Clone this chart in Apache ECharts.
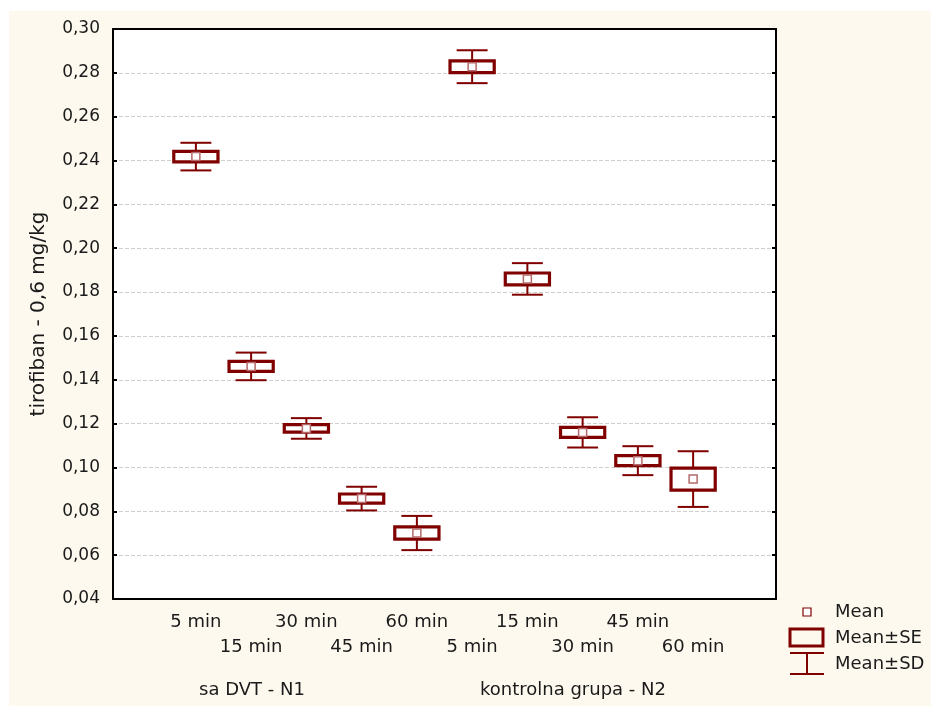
<!DOCTYPE html>
<html>
<head>
<meta charset="utf-8">
<script src="https://cdn.jsdelivr.net/npm/echarts@6/dist/echarts.min.js"></script>
<style>
  html, body { margin: 0; padding: 0; background: #ffffff; }
  #chart {
    position: absolute;
    left: 9px;
    top: 11px;
    width: 922px;
    height: 695px;
    background: #fdf9ef;
  }
</style>
</head>
<body>
<div id="chart"></div>
<script>
// categories along the x axis (blank slots at both ends, like the original)
const categories = ["", "5 min", "15 min", "30 min", "45 min", "60 min",
                    "5 min", "15 min", "30 min", "45 min", "60 min", ""];
const groupNames = ["sa DVT - N1", "kontrolna grupa - N2"];

// means, standard errors, standard deviations
const means = [0.2418, 0.1461, 0.1178, 0.0858, 0.0701,
               0.2828, 0.1860, 0.1160, 0.1031, 0.0947];
const se    = [0.0024, 0.0023, 0.0017, 0.0021, 0.0028,
               0.0027, 0.0027, 0.0023, 0.0023, 0.0050];
const sd    = [0.0063, 0.0063, 0.0047, 0.0054, 0.0078,
               0.0075, 0.0072, 0.0069, 0.0066, 0.0127];

const yMin = 0.04, yMax = 0.30, yStep = 0.02;

const RED = "#800000";
const FONT = "DejaVu Sans";
const TXT = "#1a1a1a";

// one data row per box: [category index, mean, se, sd]
const rows = means.map((m, i) => [i + 1, m, se[i], sd[i]]);

const chart = echarts.init(document.getElementById("chart"));

function whiskers(params, api) {
    const x = api.value(0), m = api.value(1), s = api.value(3);
    const top = api.coord([x, m + s]);
    const bot = api.coord([x, m - s]);
    const half = api.size([1, 0])[0] * 0.28;
    const style = { stroke: RED, lineWidth: 2 };
    return {
        type: "group",
        children: [
            { type: "line", shape: { x1: top[0], y1: top[1], x2: bot[0], y2: bot[1] }, style },
            { type: "line", shape: { x1: top[0] - half, y1: top[1], x2: top[0] + half, y2: top[1] }, style },
            { type: "line", shape: { x1: bot[0] - half, y1: bot[1], x2: bot[0] + half, y2: bot[1] }, style }
        ]
    };
}

function boxes(params, api) {
    const x = api.value(0), m = api.value(1), e = api.value(2);
    const top = api.coord([x, m + e]);
    const bot = api.coord([x, m - e]);
    const w = api.size([1, 0])[0] * 0.8;
    return {
        type: "rect",
        shape: { x: top[0] - w / 2, y: top[1], width: w, height: bot[1] - top[1] },
        style: { fill: "#ffffff", stroke: RED, lineWidth: 3.2 }
    };
}

function meanMark(params, api) {
    const p = api.coord([api.value(0), api.value(1)]);
    return {
        type: "rect",
        shape: { x: p[0] - 4, y: p[1] - 4, width: 8, height: 8 },
        style: { fill: "#ffffff", stroke: "#b46a6a", lineWidth: 1.5 }
    };
}

// legend drawn by hand (Statistica style symbols)
const lg = { x: 780, y: 569 };
const legendItems = [
    { type: "rect", shape: { x: lg.x + 14, y: lg.y + 28, width: 8, height: 8 },
      style: { fill: "#fff", stroke: RED, lineWidth: 1.2 } },
    { type: "text", x: lg.x + 46, y: lg.y + 32,
      style: { text: "Mean", font: "18px '" + FONT + "'", fill: TXT, verticalAlign: "middle" } },
    { type: "rect", shape: { x: lg.x + 1, y: lg.y + 49, width: 33, height: 17 },
      style: { fill: "none", stroke: RED, lineWidth: 3 } },
    { type: "text", x: lg.x + 46, y: lg.y + 58,
      style: { text: "Mean±SE", font: "18px '" + FONT + "'", fill: TXT, verticalAlign: "middle" } },
    { type: "polyline", shape: { points: [[lg.x + 1, lg.y + 73], [lg.x + 35, lg.y + 73]] },
      style: { stroke: RED, lineWidth: 2 } },
    { type: "polyline", shape: { points: [[lg.x + 18, lg.y + 73], [lg.x + 18, lg.y + 94]] },
      style: { stroke: RED, lineWidth: 2 } },
    { type: "polyline", shape: { points: [[lg.x + 1, lg.y + 94], [lg.x + 35, lg.y + 94]] },
      style: { stroke: RED, lineWidth: 2 } },
    { type: "text", x: lg.x + 46, y: lg.y + 84,
      style: { text: "Mean±SD", font: "18px '" + FONT + "'", fill: TXT, verticalAlign: "middle" } }
];

chart.setOption({
    animation: false,
    backgroundColor: "transparent",
    textStyle: { fontFamily: FONT },
    grid: {
        left: 104, right: 155, top: 18, bottom: 107,
        show: true, backgroundColor: "#ffffff", borderWidth: 0
    },
    xAxis: [
        {
            type: "category",
            data: categories,
            position: "bottom",
            axisLine: { lineStyle: { color: "#000", width: 2 } },
            axisTick: { inside: true, length: 4, alignWithLabel: true, interval: 0,
                        lineStyle: { color: "#000", width: 2 } },
            axisLabel: {
                interval: 0, margin: 11, color: TXT, fontSize: 18, lineHeight: 25,
                formatter: (v, i) => (i % 2 === 1 ? v : "\n" + v)
            },
            splitLine: { show: false }
        },
        {
            type: "category",
            data: categories,
            position: "top",
            axisLine: { lineStyle: { color: "#000", width: 2 } },
            axisTick: { inside: true, length: 4, alignWithLabel: true, interval: 0,
                        lineStyle: { color: "#000", width: 2 } },
            axisLabel: { show: false }
        }
    ],
    yAxis: [
        {
            type: "value",
            min: yMin, max: yMax, interval: yStep,
            position: "left",
            name: "tirofiban - 0,6 mg/kg",
            nameLocation: "middle",
            nameGap: 64,
            nameTextStyle: { color: TXT, fontSize: 20 },
            axisLine: { show: true, lineStyle: { color: "#000", width: 2 } },
            axisTick: { show: true, inside: true, length: 4, lineStyle: { color: "#000", width: 2 } },
            axisLabel: { margin: 13, color: TXT, fontSize: 17,
                         formatter: v => v.toFixed(2).replace(".", ",") },
            splitLine: { show: true, lineStyle: { color: "#cfcfcf", width: 1, type: [4, 2] } }
        },
        {
            type: "value",
            min: yMin, max: yMax, interval: yStep,
            position: "right",
            axisLine: { show: true, lineStyle: { color: "#000", width: 2 } },
            axisTick: { show: true, inside: true, length: 4, lineStyle: { color: "#000", width: 2 } },
            axisLabel: { show: false },
            splitLine: { show: false }
        }
    ],
    series: [
        { name: "Mean±SD", type: "custom", renderItem: whiskers, data: rows, z: 2 },
        { name: "Mean±SE", type: "custom", renderItem: boxes, data: rows, z: 3 },
        { name: "Mean", type: "custom", renderItem: meanMark, data: rows, z: 4 }
    ],
    graphic: [
        { type: "text", x: 243, y: 679,
          style: { text: groupNames[0], font: "18px '" + FONT + "'", fill: TXT,
                   align: "center", verticalAlign: "middle" } },
        { type: "text", x: 564, y: 679,
          style: { text: groupNames[1], font: "18px '" + FONT + "'", fill: TXT,
                   align: "center", verticalAlign: "middle" } },
        ...legendItems
    ]
});
</script>
</body>
</html>
